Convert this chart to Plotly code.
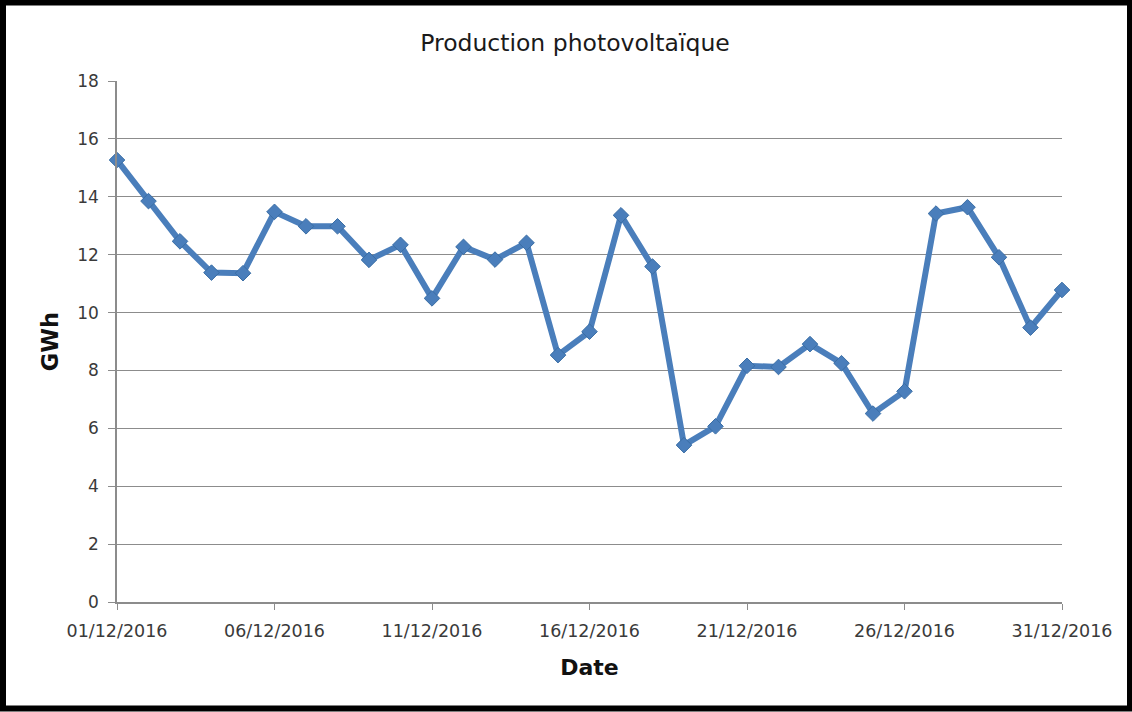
import plotly.graph_objects as go
import pandas as pd

dates = pd.date_range("2016-12-01", "2016-12-31", freq="D")
production_gwh = [15.27, 13.85, 12.46, 11.38, 11.36, 13.48, 12.98, 12.98, 11.82, 12.34,
                  10.49, 12.27, 11.83, 12.41, 8.53, 9.34, 13.36, 11.59, 5.42, 6.07,
                  8.16, 8.12, 8.91, 8.25, 6.51, 7.28, 13.42, 13.64, 11.91, 9.48, 10.78]
tick_dates = ["2016-12-01", "2016-12-06", "2016-12-11", "2016-12-16",
              "2016-12-21", "2016-12-26", "2016-12-31"]
tick_labels = ["01/12/2016", "06/12/2016", "11/12/2016", "16/12/2016",
               "21/12/2016", "26/12/2016", "31/12/2016"]
y_ticks = [0, 2, 4, 6, 8, 10, 12, 14, 16, 18]

L, R, T, B = 117, 70, 81, 110
W, H = 1132, 712
pw, ph = W - L - R, H - T - B

def px_x(x):
    return (x - L) / pw

def px_y(y):
    return 1 - (y - T) / ph

fig = go.Figure()
fig.add_trace(go.Scatter(
    x=dates, y=production_gwh, mode="lines+markers",
    line=dict(color="#4A7EBB", width=6),
    marker=dict(symbol="diamond", size=12, color="#4A7EBB",
                line=dict(color="#3A6EA5", width=1)),
    showlegend=False, cliponaxis=False,
))

tick_font = dict(family="DejaVu Sans, Verdana", size=17, color="#3a3a3a")
fig.update_layout(
    width=W, height=H,
    margin=dict(l=L, r=R, t=T, b=B, pad=0),
    paper_bgcolor="white", plot_bgcolor="white",
    title=dict(text="Production photovoltaïque", x=575 / W, xanchor="center",
               y=1 - 43 / H, yanchor="middle",
               font=dict(family="DejaVu Sans", size=23.5, color="#1a1a1a")),
    xaxis=dict(
        range=["2016-12-01", "2016-12-31"], tickmode="array",
        tickvals=tick_dates, ticktext=tick_labels,
        showgrid=False, showline=True, linecolor="#8c8c8c", linewidth=1.5,
        ticks="outside", ticklen=6, tickcolor="#8c8c8c",
        tickfont=dict(tick_font, size=17.5), ticklabelstandoff=6,
        title=dict(text="<b>Date</b>", standoff=20,
                   font=dict(family="DejaVu Sans", size=22, color="#111111")),
        zeroline=False,
    ),
    yaxis=dict(
        range=[0, 18], tickmode="array", tickvals=y_ticks,
        showgrid=True, gridcolor="#8c8c8c", gridwidth=1,
        showline=True, linecolor="#8c8c8c", linewidth=1.5,
        ticks="outside", ticklen=7, tickcolor="#8c8c8c",
        tickfont=tick_font, ticklabelstandoff=6,
        title=dict(text="<b>GWh</b>", standoff=12,
                   font=dict(family="DejaVu Sans", size=22.5, color="#111111")),
        zeroline=False,
    ),
    shapes=[dict(type="rect", xref="paper", yref="paper",
                 x0=px_x(3), x1=px_x(W - 2),
                 y0=px_y(H - 3.5), y1=px_y(2.5),
                 line=dict(color="black", width=6), layer="below")],
)

fig.write_html("out.html", config={"displayModeBar": False},
               post_script="document.body.style.margin='0';")
